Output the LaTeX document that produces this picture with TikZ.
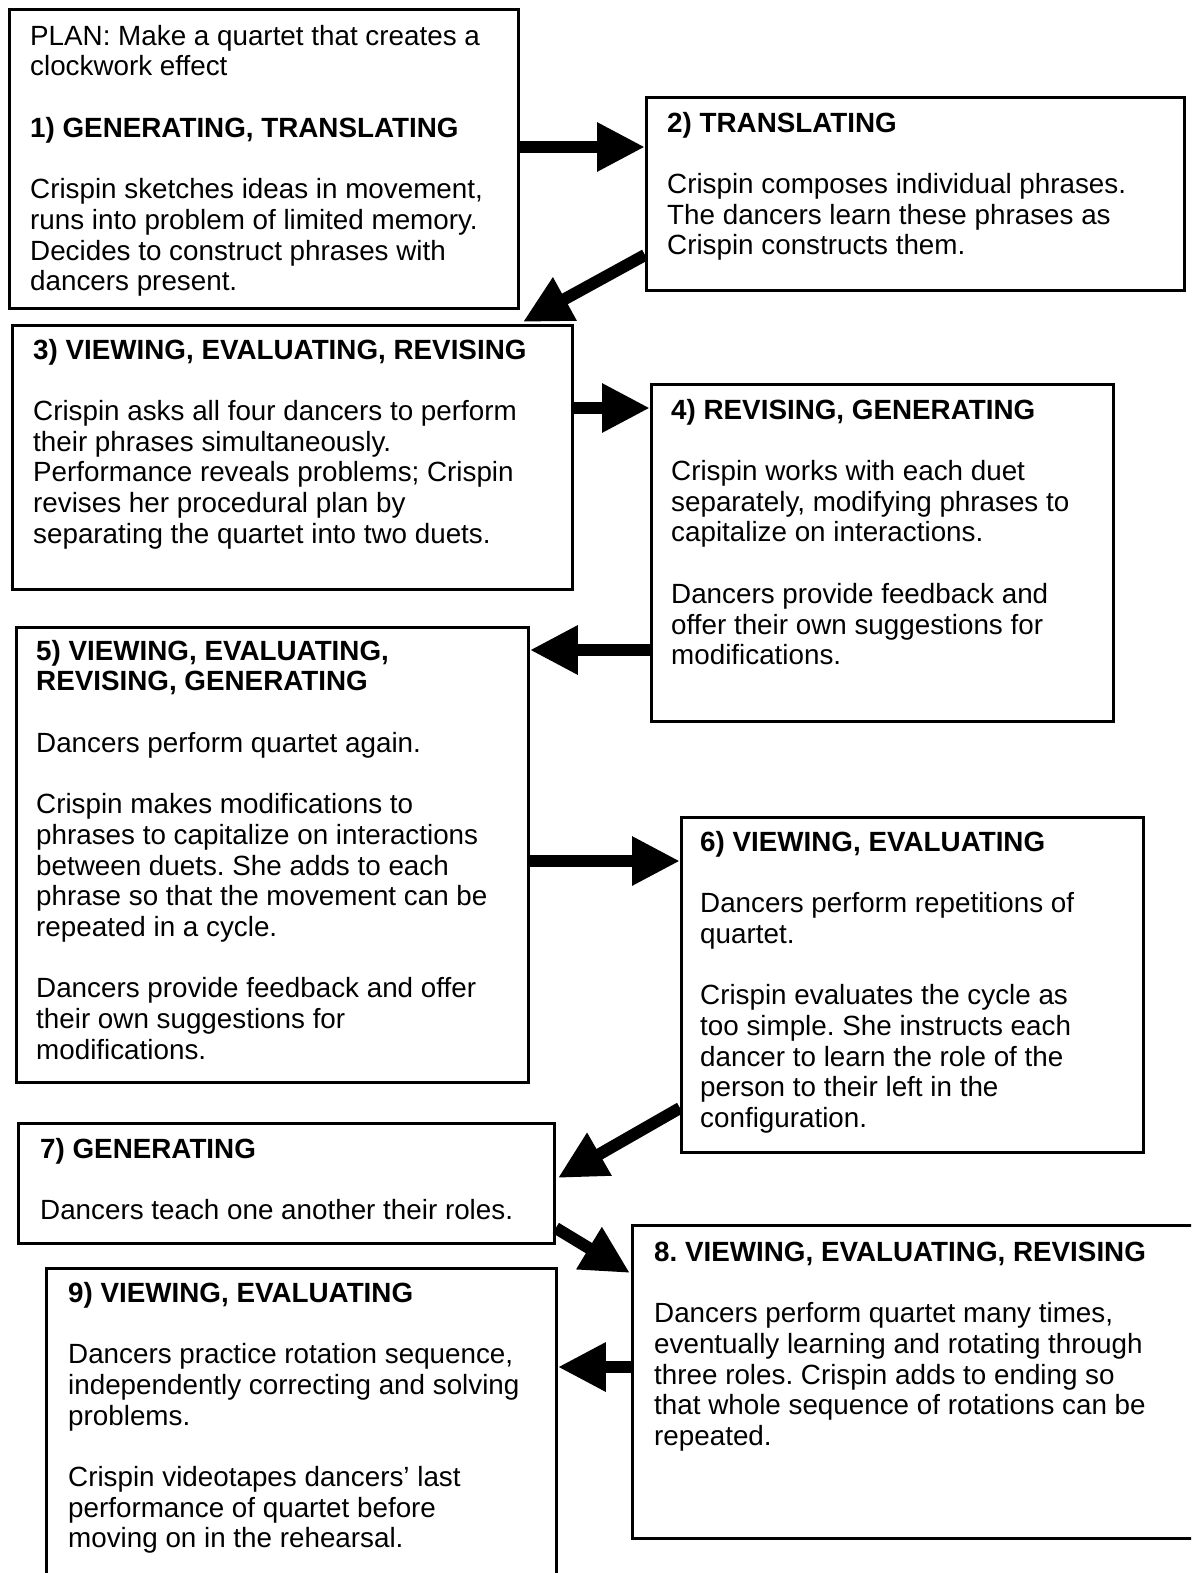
\documentclass[tikz,border=0pt]{standalone}
\usepackage{fontspec}
\setmainfont{Liberation Sans}
\usetikzlibrary{arrows.meta,calc}
\newcommand\gap{\\[30.7pt]}
\tikzset{
  box/.style={draw=black, line width=2.8pt, fill=white, anchor=north west, inner sep=0pt},
  txt/.style={anchor=north west, inner sep=0pt, align=left, font=\fontsize{27.8}{30.7}\selectfont\frenchspacing},
  arr/.style={line width=12pt, -{Triangle[length=48pt,width=46pt]}},
}
\begin{document}
\frenchspacing
\begin{tikzpicture}[x=1pt,y=-1pt]
\clip (0,0) rectangle (1191,1573);
\fill[white] (0,0) rectangle (1191,1573);
% boxes
\node[box, minimum width=509pt, minimum height=299pt] (b1) at (8,8) {};
\node[box, minimum width=538pt, minimum height=193pt] (b2) at (645,96) {};
\node[box, minimum width=560pt, minimum height=264pt] (b3) at (11,324) {};
\node[box, minimum width=462pt, minimum height=337pt] (b4) at (650,383) {};
\node[box, minimum width=512pt, minimum height=455pt] (b5) at (15,626) {};
\node[box, minimum width=462pt, minimum height=335pt] (b6) at (680,816) {};
\node[box, minimum width=536pt, minimum height=120pt] (b7) at (17,1122) {};
\node[box, minimum width=600pt, minimum height=313pt] (b8) at (631,1224) {};
\node[box, minimum width=510pt, minimum height=340pt] (b9) at (45,1267) {};
% texts
\node[txt] (t1) at (30,23.5) {\strut PLAN: Make a quartet that creates a\\clockwork effect\gap
\textbf{1) GENERATING, TRANSLATING}\gap
Crispin sketches ideas in movement,\\runs into problem of limited memory.\\Decides to construct phrases with\\dancers present.};
\node[txt] (t2) at (667,110.5) {\strut\textbf{2) TRANSLATING}\gap
Crispin composes individual phrases.\\The dancers learn these phrases as\\Crispin constructs them.};
\node[txt] (t3) at (33,337.5) {\strut\textbf{3) VIEWING, EVALUATING, REVISING}\gap
Crispin asks all four dancers to perform\\their phrases simultaneously.\\Performance reveals problems; Crispin\\revises her procedural plan by\\separating the quartet into two duets.};
\node[txt] (t4) at (671,397.5) {\strut\textbf{4) REVISING, GENERATING}\gap
Crispin works with each duet\\separately, modifying phrases to\\capitalize on interactions.\gap
Dancers provide feedback and\\offer their own suggestions for\\modifications.};
\node[txt] (t5) at (36,638.5) {\strut\textbf{5) VIEWING, EVALUATING,}\\\textbf{REVISING, GENERATING}\gap
Dancers perform quartet again.\gap
Crispin makes modifications to\\phrases to capitalize on interactions\\between duets. She adds to each\\phrase so that the movement can be\\repeated in a cycle.\gap
Dancers provide feedback and offer\\their own suggestions for\\modifications.};
\node[txt] (t6) at (700,829.5) {\strut\textbf{6) VIEWING, EVALUATING}\gap
Dancers perform repetitions of\\quartet.\gap
Crispin evaluates the cycle as\\too simple. She instructs each\\dancer to learn the role of the\\person to their left in the\\configuration.};
\node[txt] (t7) at (40,1136.5) {\strut\textbf{7) GENERATING}\gap
Dancers teach one another their roles.};
\node[txt] (t8) at (654,1239.5) {\strut\textbf{8. VIEWING, EVALUATING, REVISING}\gap
Dancers perform quartet many times,\\eventually learning and rotating through\\three roles. Crispin adds to ending so\\that whole sequence of rotations can be\\repeated.};
\node[txt] (t9) at (68,1280.5) {\strut\textbf{9) VIEWING, EVALUATING}\gap
Dancers practice rotation sequence,\\independently correcting and solving\\problems.\gap
Crispin videotapes dancers’ last\\performance of quartet before\\moving on in the rehearsal.};
% arrows
\draw[arr] ($(b1.north east)+(0,139)$) -- ($(b2.north west)+(0,51)$);
\draw[arr] ($(b2.north west)+(0,159)$) -- ($(b3.north east)+(-51,-2)$);
\draw[arr] ($(b3.north east)+(0,84)$) -- ($(b4.north west)+(0,25)$);
\draw[arr] ($(b4.north west)+(0,267)$) -- ($(b5.north east)+(0,24)$);
\draw[arr] ($(b5.north east)+(0,235)$) -- ($(b6.north west)+(0,45)$);
\draw[arr] ($(b6.north west)+(0,292)$) -- ($(b7.north east)+(2,56)$);
\draw[arr] ($(b7.north east)+(0,106)$) -- ($(b8.north west)+(-1,49)$);
\draw[arr] ($(b8.north west)+(0,143)$) -- ($(b9.north east)+(0,100)$);
\end{tikzpicture}
\end{document}
